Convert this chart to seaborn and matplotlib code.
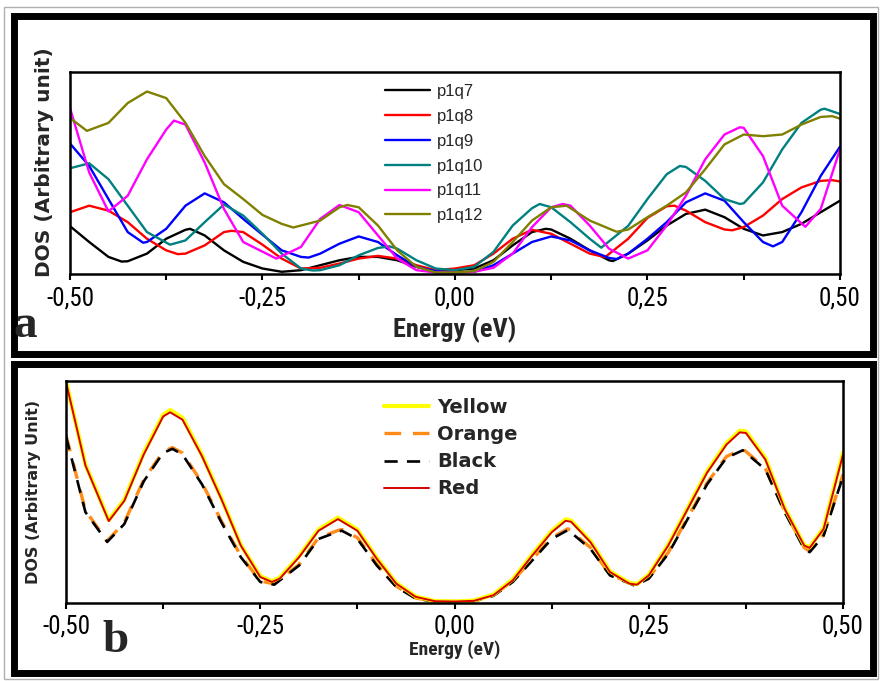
import matplotlib
matplotlib.use("Agg")
import matplotlib.pyplot as plt
import seaborn as sns
import pandas as pd
from matplotlib import font_manager
from matplotlib.patches import Rectangle
from matplotlib.ticker import FixedLocator, FixedFormatter, NullFormatter

# ---------------- data: panel a ----------------
x_p1q7 = [-0.5, -0.475, -0.45, -0.433, -0.425, -0.4, -0.375, -0.35, -0.344, -0.325, -0.3, -0.275, -0.25, -0.225, -0.2,
          -0.175, -0.15, -0.125, -0.1, -0.075, -0.05, -0.025, 0, 0.025, 0.05, 0.075, 0.1, 0.118, 0.125, 0.15, 0.175,
          0.2, 0.205, 0.225, 0.25, 0.275, 0.3, 0.325, 0.35, 0.375, 0.4, 0.425, 0.45, 0.475, 0.5]
y_p1q7 = [46.7, 30.7, 15.7, 11, 11.3, 19, 34, 43, 44, 37.3, 22.3, 10.7, 4, 0.7, 2.3,
          7.3, 12.3, 15.7, 15.7, 12.3, 5.7, 1.3, 2.3, 4, 12.3, 27.3, 40.7, 44, 43.3, 34, 22.3,
          12.3, 11.5, 19, 32.3, 47.3, 59, 63.3, 55.7, 44, 37.3, 40.7, 49, 60.7, 72.3]

x_p1q8 = [-0.5, -0.475, -0.45, -0.425, -0.4, -0.375, -0.36, -0.35, -0.325, -0.3, -0.29, -0.275, -0.25, -0.225, -0.2,
          -0.175, -0.15, -0.125, -0.1, -0.075, -0.05, -0.025, 0, 0.025, 0.05, 0.075, 0.1, 0.125, 0.15, 0.175, 0.195,
          0.225, 0.25, 0.275, 0.285, 0.3, 0.325, 0.35, 0.36, 0.375, 0.4, 0.425, 0.45, 0.475, 0.49, 0.5]
y_p1q8 = [60.7, 67.3, 62.3, 50.7, 34, 22.3, 18.5, 19, 27.3, 40.7, 42, 40.7, 28, 14, 4,
          4.7, 9, 14, 16.7, 14, 7.3, 2.3, 4, 7.3, 19, 34, 43, 39, 29, 19, 15.5,
          34, 55, 66.7, 67.3, 62.3, 50.7, 43.3, 42.5, 45.7, 57.3, 74, 85.7, 92.3, 93, 91.7]

x_p1q9 = [-0.5, -0.475, -0.45, -0.425, -0.405, -0.4, -0.375, -0.35, -0.325, -0.3, -0.275, -0.25, -0.225, -0.2, -0.19,
          -0.175, -0.15, -0.125, -0.1, -0.075, -0.05, -0.025, 0, 0.025, 0.05, 0.075, 0.1, 0.125, 0.15, 0.175, 0.2,
          0.21, 0.225, 0.25, 0.275, 0.3, 0.325, 0.35, 0.375, 0.4, 0.413, 0.425, 0.45, 0.475, 0.5]
y_p1q9 = [130, 107.3, 74, 40.7, 30, 30.7, 44, 67.3, 79.7, 70.7, 54, 38, 22.3, 15.7, 15,
          19, 29, 36.3, 30.7, 17.3, 5.7, 1.3, 0, 0.7, 7.3, 19, 30.7, 36.3, 32.3, 22.3, 14.7,
          13.5, 19, 34, 50.7, 70.7, 79.7, 72.3, 50.7, 30.7, 26.3, 30.7, 60.7, 97.3, 126.7]

x_p1q10 = [-0.5, -0.475, -0.45, -0.425, -0.4, -0.37, -0.35, -0.325, -0.3, -0.275, -0.25, -0.225, -0.2, -0.185, -0.175,
           -0.15, -0.125, -0.1, -0.085, -0.075, -0.05, -0.025, 0, 0.025, 0.05, 0.075, 0.1, 0.11, 0.125, 0.15, 0.175,
           0.19, 0.225, 0.25, 0.275, 0.292, 0.3, 0.325, 0.35, 0.37, 0.375, 0.4, 0.425, 0.45, 0.475, 0.48, 0.5]
y_p1q10 = [105, 110, 94, 67.3, 40.7, 28, 32.3, 50.7, 68.5, 57.3, 39, 19, 4, 2, 2.3,
           7.3, 17.3, 24.7, 26.3, 24, 12.3, 4, 2.3, 5.7, 20.7, 47.3, 64.7, 69, 65.7, 50.7, 34,
           25, 47, 74, 99, 107.3, 106.3, 92.3, 74, 69, 69.7, 90.7, 124, 150.7, 164, 165, 159.7]

x_p1q11 = [-0.5, -0.475, -0.45, -0.425, -0.4, -0.375, -0.365, -0.35, -0.325, -0.3, -0.275, -0.25, -0.232, -0.2,
           -0.175, -0.15, -0.125, -0.1, -0.075, -0.05, -0.025, 0, 0.025, 0.05, 0.075, 0.1, 0.125, 0.14, 0.15,
           0.175, 0.2, 0.225, 0.25, 0.275, 0.3, 0.325, 0.35, 0.37, 0.375, 0.4, 0.425, 0.455, 0.475, 0.5]
y_p1q11 = [165.7, 100.7, 61.5, 77.3, 114, 144, 153, 149, 110.7, 64, 30.7, 21, 14, 25.7,
           54, 68, 60.7, 37.3, 14, 2.3, 0, 0, 0.7, 4.7, 19, 45.7, 65.7, 69, 67.3,
           47.3, 24, 14, 22.3, 47.3, 77.3, 114, 139, 146.3, 145.7, 117.3, 67.3, 46, 64, 124]

x_p1q12 = [-0.5, -0.478, -0.45, -0.425, -0.4, -0.375, -0.35, -0.325, -0.3, -0.275, -0.25, -0.225, -0.21, -0.175,
           -0.15, -0.14, -0.125, -0.1, -0.075, -0.05, -0.025, 0, 0.025, 0.05, 0.075, 0.1, 0.125, 0.145, 0.175,
           0.21, 0.225, 0.25, 0.275, 0.3, 0.325, 0.35, 0.375, 0.4, 0.425, 0.45, 0.475, 0.49, 0.5]
y_p1q12 = [155.7, 142.7, 150.7, 170.7, 182.3, 175.7, 150.7, 117.3, 89, 74, 58, 49, 45.3, 52.3,
           65.7, 68, 65.7, 47.3, 22.3, 5.7, 0, 0, 1.3, 10.7, 30.7, 52.3, 65.7, 67.3, 52.3,
           41, 43.3, 55.7, 67.3, 80.7, 104, 129, 139, 137.3, 139, 149, 156.7, 157.5, 155]

names_a = ["p1q7", "p1q8", "p1q9", "p1q10", "p1q11", "p1q12"]
colors_a = ["#000000", "#ff0000", "#0000ff", "#008080", "#ff00ff", "#808000"]

# ---------------- data: panel b ----------------
x_solid = [-0.5, -0.475, -0.445, -0.425, -0.4, -0.375, -0.366, -0.35, -0.325, -0.3, -0.275, -0.25, -0.235, -0.225,
           -0.2, -0.175, -0.15, -0.125, -0.1, -0.075, -0.05, -0.025, 0, 0.025, 0.05, 0.075, 0.1, 0.125, 0.143,
           0.15, 0.175, 0.2, 0.225, 0.235, 0.25, 0.275, 0.3, 0.325, 0.35, 0.367, 0.375, 0.4, 0.425, 0.45, 0.457,
           0.475, 0.5]
y_red = [221, 137, 81, 101.3, 148, 186.3, 190.5, 183, 146.3, 103, 56.3, 24.7, 19.7, 23,
         44.7, 71.3, 83, 71.3, 43, 18, 4.7, 0.3, 0, 0.7, 6.3, 21.3, 46.3, 69.7, 81.3,
         80.3, 59.7, 29.7, 18, 17, 26.3, 56.3, 93, 129.7, 158, 170.3, 169.7, 143, 93, 56.3, 54,
         73, 148]
y_yellow = [222, 138, 82, 102.5, 149.5, 188, 192.8, 185, 147.5, 104, 57, 25.5, 20.5, 24,
            45.7, 72.5, 84.5, 72.5, 44, 18.7, 5, 0.5, 0, 1, 7, 22.3, 47.5, 71, 82.8,
            81.5, 60.7, 30.5, 18.7, 17.7, 27, 57.3, 94, 131, 159.5, 172, 171.3, 144.5, 94, 57, 54.7,
            74, 150]

x_dash = [-0.5, -0.475, -0.447, -0.425, -0.4, -0.375, -0.363, -0.35, -0.325, -0.3, -0.275, -0.25, -0.232, -0.2,
          -0.175, -0.15, -0.145, -0.125, -0.1, -0.075, -0.05, -0.025, 0, 0.025, 0.05, 0.075, 0.1, 0.125, 0.146,
          0.175, 0.2, 0.232, 0.25, 0.275, 0.3, 0.325, 0.35, 0.371, 0.4, 0.425, 0.45, 0.457, 0.475, 0.5]
y_black = [166, 90, 60, 78, 121, 149.7, 153.7, 148, 118, 79.7, 44.7, 19.7, 17, 36.3,
           63, 70.3, 71.3, 63, 36.3, 14.7, 3, 0, 0, 0.3, 5.7, 19.7, 41.3, 63, 72,
           53, 26.3, 16, 23, 48, 83, 118, 144.7, 152.3, 133, 89.7, 53, 49.7, 66.3, 126]
y_orange = [167.5, 91.5, 61, 79.5, 122.5, 151, 155, 149.5, 119.5, 81, 46, 20.7, 17.7, 37.3,
            64.3, 71.5, 72.5, 64.3, 37.5, 15.5, 3.5, 0.3, 0, 0.5, 6.5, 20.7, 42.5, 64.3, 73.3,
            54.3, 27.3, 16.7, 24, 49.3, 84.3, 119.3, 146, 153.7, 134.3, 91, 54.3, 50.7, 67.5, 128]

tick_pos = [-0.5, -0.25, 0.0, 0.25, 0.5]
tick_labels = ["-0,50", "-0,25", "0,00", "0,25", "0,50"]
minor_pos = [-0.375, -0.125, 0.125, 0.375]

# ---------------- style ----------------
sns.set_style("white")
plt.rcParams["font.family"] = ["Liberation Sans", "DejaVu Sans"]

_installed = {f.name for f in font_manager.fontManager.ttflist}
_narrow = [n for n in ["Liberation Sans Narrow", "DejaVu Sans Condensed", "Roboto Condensed",
                       "Open Sans Condensed"] if n in _installed]
NARROW = _narrow[:1] + ["Liberation Sans", "DejaVu Sans"]
NARROW_STRETCH = "condensed"

fig = plt.figure(figsize=(8.8, 6.81), dpi=100)
fig.patch.set_facecolor("white")

axa = fig.add_axes([0.0795, 0.5977, 0.875, 0.2966])
axb = fig.add_axes([0.075, 0.1145, 0.883, 0.326])

# panel a curves
series_a = [(x_p1q7, y_p1q7), (x_p1q8, y_p1q8), (x_p1q9, y_p1q9),
            (x_p1q10, y_p1q10), (x_p1q11, y_p1q11), (x_p1q12, y_p1q12)]
for (xs, ys), name, col in zip(series_a, names_a, colors_a):
    df = pd.DataFrame({"Energy": xs, "DOS": ys})
    sns.lineplot(data=df, x="Energy", y="DOS", ax=axa, color=col, lw=1.7,
                 estimator=None, sort=False, label=name, solid_joinstyle="round")

# panel b curves
dash_pat = (0, (5, 3.5))
df_o = pd.DataFrame({"Energy": x_dash, "DOS": y_orange})
df_k = pd.DataFrame({"Energy": x_dash, "DOS": y_black})
df_y = pd.DataFrame({"Energy": x_solid, "DOS": y_yellow})
df_r = pd.DataFrame({"Energy": x_solid, "DOS": y_red})
sns.lineplot(data=df_o, x="Energy", y="DOS", ax=axb, color="#ff8c1a", lw=2.4,
             linestyle=dash_pat, estimator=None, sort=False, label="Orange")
sns.lineplot(data=df_k, x="Energy", y="DOS", ax=axb, color="#000000", lw=1.9,
             linestyle=dash_pat, estimator=None, sort=False, label="Black")
sns.lineplot(data=df_y, x="Energy", y="DOS", ax=axb, color="#ffff00", lw=3.0,
             estimator=None, sort=False, label="Yellow", solid_joinstyle="round")
sns.lineplot(data=df_r, x="Energy", y="DOS", ax=axb, color="#d40000", lw=1.4,
             estimator=None, sort=False, label="Red", solid_joinstyle="round")

for ax, ymax in ((axa, 202), (axb, 222)):
    ax.set_xlim(-0.5, 0.5)
    ax.set_ylim(-1.5, ymax)
    ax.set_xlabel("")
    ax.set_ylabel("")
    ax.set_yticks([])
    ax.xaxis.set_major_locator(FixedLocator(tick_pos))
    ax.xaxis.set_major_formatter(FixedFormatter(tick_labels))
    ax.xaxis.set_minor_locator(FixedLocator(minor_pos))
    ax.xaxis.set_minor_formatter(NullFormatter())
    ax.tick_params(axis="x", which="both", direction="out", length=4, width=1.5,
                   bottom=True, top=False, color="black")
    for sp in ax.spines.values():
        sp.set_visible(True)
        sp.set_color("black")
        sp.set_linewidth(1.8)
    for lab in ax.get_xticklabels():
        lab.set_family(NARROW)
        lab.set_stretch(NARROW_STRETCH)
        lab.set_fontsize(18)
        lab.set_color("black")

axa.tick_params(axis="x", which="major", pad=5)
axb.tick_params(axis="x", which="major", pad=4)

# legends
h, l = axa.get_legend_handles_labels()
axa.legend(h, l, loc="upper left", bbox_to_anchor=(385 / 880, 1 - 84 / 681),
           bbox_transform=fig.transFigure, frameon=False, borderpad=0, borderaxespad=0,
           handlelength=2.7, handletextpad=0.4, labelspacing=0.59,
           prop={"family": ["Liberation Sans", "DejaVu Sans"], "size": 12})

hb, lb = axb.get_legend_handles_labels()
order = [lb.index(n) for n in ["Yellow", "Orange", "Black", "Red"]]
axb.legend([hb[i] for i in order], [lb[i] for i in order], loc="upper left",
           bbox_to_anchor=(384 / 880, 1 - 398 / 681), bbox_transform=fig.transFigure,
           frameon=False, borderpad=0, borderaxespad=0, handlelength=2.3,
           handletextpad=0.45, labelspacing=0.42,
           prop={"family": "DejaVu Sans", "weight": "bold", "size": 14})

# axis titles
fig.text(455 / 880, 1 - 330 / 681, "Energy (eV)", ha="center", va="center",
         family=NARROW, stretch=NARROW_STRETCH, weight="bold", fontsize=19)
fig.text(455 / 880, 1 - 650 / 681, "Energy (eV)", ha="center", va="center",
         family=NARROW, stretch=NARROW_STRETCH, weight="bold", fontsize=14)
fig.text(45 / 880, 1 - 162 / 681, "DOS (Arbitrary unit)", ha="center", va="center",
         rotation=90, family="DejaVu Sans", weight="bold", fontsize=14.5)
fig.text(34 / 880, 1 - 492 / 681, "DOS (Arbitrary Unit)", ha="center", va="center",
         rotation=90, family="DejaVu Sans", weight="bold", fontsize=11.5)

# panel letters
fig.text(25 / 880, 1 - 326 / 681, "a", ha="center", va="center",
         family=["Liberation Serif", "DejaVu Serif"], weight="bold", fontsize=34)
fig.text(115 / 880, 1 - 641 / 681, "b", ha="center", va="center",
         family=["Liberation Serif", "DejaVu Serif"], weight="bold", fontsize=34)

# frames
fig.add_artist(Rectangle((4 / 880, 1 - 679 / 681), 874 / 880, 672 / 681, transform=fig.transFigure,
                         fill=False, edgecolor="#b0b0b0", lw=1))
fig.add_artist(Rectangle((13.5 / 880, 1 - 353.5 / 681), 859 / 880, 338 / 681,
                         transform=fig.transFigure, fill=False, edgecolor="black", lw=5))
fig.add_artist(Rectangle((13.5 / 880, 1 - 672.5 / 681), 859 / 880, 309 / 681,
                         transform=fig.transFigure, fill=False, edgecolor="black", lw=5))

fig.savefig("out.png", dpi=100, facecolor="white")
